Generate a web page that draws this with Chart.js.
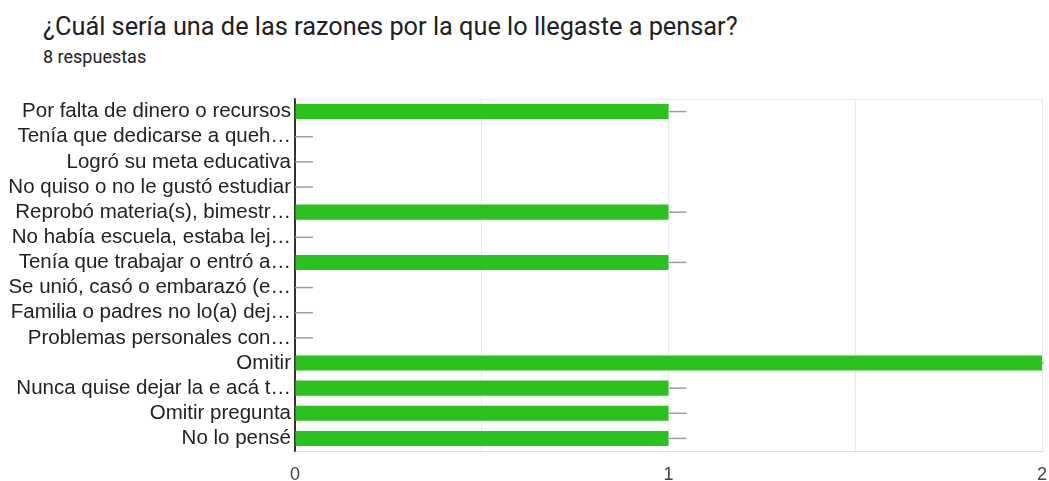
<!DOCTYPE html>
<html>
<head>
<meta charset="utf-8">
<script src="https://cdn.jsdelivr.net/npm/chart.js@4"></script>
<style>
  body { margin: 0; background: #fff; }
  #wrap { position: relative; width: 1049px; height: 481px; }
  #title { position: absolute; left: 43px; top: 12px; font: 25.3px Roboto, sans-serif; color: #202124; }
  #sub { position: absolute; left: 43px; top: 46px; font: 18px Roboto, sans-serif; color: #202124; }
  canvas { position: absolute; left: 0; top: 0; }
</style>
</head>
<body>
<div id="wrap">
  <div id="title">¿Cuál sería una de las razones por la que lo llegaste a pensar?</div>
  <div id="sub">8 respuestas</div>
  <canvas id="myChart" width="1049" height="481"></canvas>
</div>
<script>
const categories = [
    'Por falta de dinero o recursos',
    'Tenía que dedicarse a queh…',
    'Logró su meta educativa',
    'No quiso o no le gustó estudiar',
    'Reprobó materia(s), bimestr…',
    'No había escuela, estaba lej…',
    'Tenía que trabajar o entró a…',
    'Se unió, casó o embarazó (e…',
    'Familia o padres no lo(a) dej…',
    'Problemas personales con…',
    'Omitir',
    'Nunca quise dejar la e acá t…',
    'Omitir pregunta',
    'No lo pensé'
];
const counts = [1, 0, 0, 0, 1, 0, 1, 0, 0, 0, 2, 1, 1, 1];
const tickLabels = ['0', '1', '2'];

// little grey stub at the end of every bar, like the forms chart
const stubs = {
    id: 'stubs',
    afterDatasetsDraw(chart) {
        const c = chart.ctx;
        const area = chart.chartArea;
        c.save();
        c.beginPath();
        c.rect(area.left, area.top, area.right - area.left + 2, area.bottom - area.top);
        c.clip();
        c.strokeStyle = '#9e9e9e';
        c.lineWidth = 1.5;
        chart.getDatasetMeta(0).data.forEach(bar => {
            c.beginPath();
            c.moveTo(bar.x, bar.y);
            c.lineTo(bar.x + 18, bar.y);
            c.stroke();
        });
        c.restore();
    }
};

const ctx = document.getElementById('myChart').getContext('2d');
const chart = new Chart(ctx, {
    type: 'bar',
    data: {
        labels: categories,
        datasets: [{
            data: counts,
            backgroundColor: '#2bc21d',
            categoryPercentage: 0.6,
            barPercentage: 1
        }]
    },
    options: {
        indexAxis: 'y',
        responsive: false,
        animation: false,
        layout: { padding: { top: 99, right: 0, left: 0, bottom: 0 } },
        plugins: { legend: { display: false }, tooltip: { enabled: false } },
        scales: {
            x: {
                min: 0,
                max: 2,
                afterFit: s => { s.height = 30; s.paddingRight = 7; },
                ticks: {
                    stepSize: 0.5,
                    padding: 13,
                    color: '#444',
                    font: { family: 'Liberation Sans', size: 18 },
                    callback: v => Number.isInteger(v) ? tickLabels[v] : ''
                },
                grid: {
                    drawTicks: false,
                    color: c => c.tick && c.tick.value === 0 ? '#333' : '#ebebeb'
                },
                border: { color: '#e0e0e0' }
            },
            y: {
                afterFit: s => { s.width = 295; s.paddingTop = 0; s.paddingBottom = 0; },
                ticks: {
                    autoSkip: false,
                    padding: 4,
                    color: '#222',
                    font: { family: 'Liberation Sans', size: 20.5 }
                },
                grid: {
                    drawTicks: false,
                    color: c => (c.index === 0 ? '#e6e6e6' : 'rgba(0,0,0,0)')
                },
                border: { color: '#333', width: 1.5 }
            }
        }
    },
    plugins: [stubs]
});
</script>
</body>
</html>
